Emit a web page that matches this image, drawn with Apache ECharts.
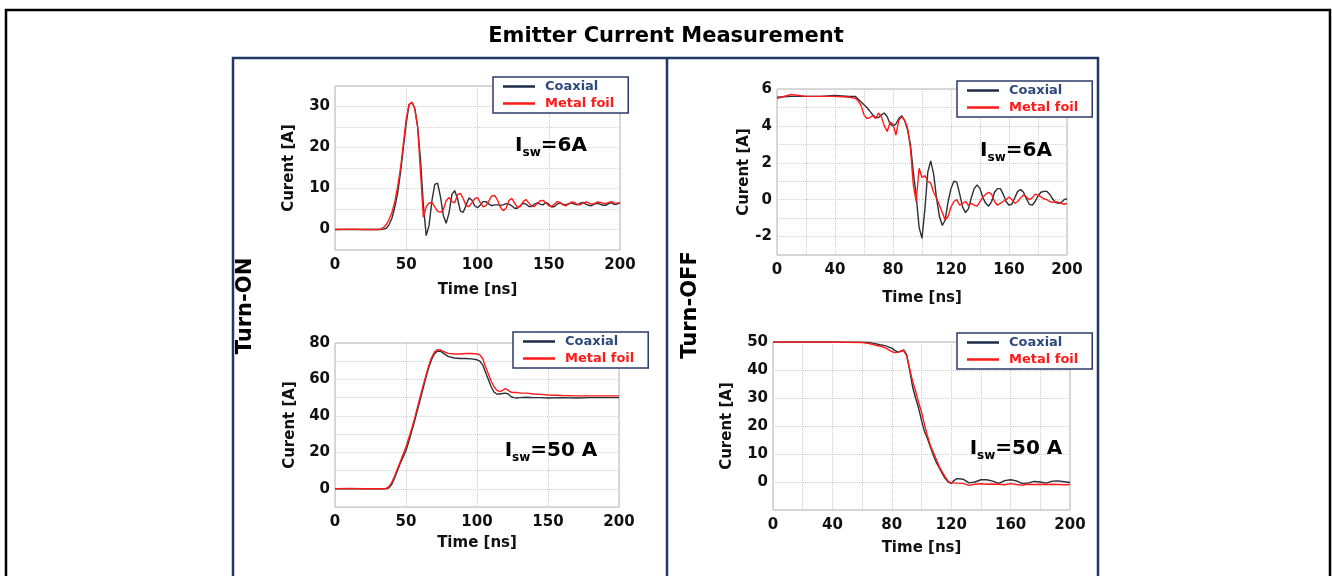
<!DOCTYPE html>
<html><head><meta charset="utf-8">
<script src="https://cdn.jsdelivr.net/npm/echarts@6/dist/echarts.min.js"></script>
<style>html,body{margin:0;padding:0;background:#fff}#c{width:1332px;height:576px}</style>
</head><body><div id="c"></div>
<script>
// ---------- DATA ----------
const seriesNames = ['Coaxial', 'Metal foil'];
const titleText = 'Emitter Current Measurement';
const rowLabels = ['Turn-ON', 'Turn-OFF'];
const noteValues = ['=6A', '=50 A', '=6A', '=50 A'];

// Turn-ON, Isw = 6 A
const onT6 = [0,10,20,30,32,34,36,38,40,42,44,46,48,50,52,54,56,58,60,62,64,66,68,70,72,74,76,78,80,82,84,86,88,90,92,94,96,98,100,102,104,106,108,110,112,114,116,118,120,122,124,126,128,130,132,134,136,138,140,142,144,146,148,150,152,154,156,158,160,162,164,166,168,170,172,174,176,178,180,182,184,186,188,190,192,194,196,198,200];
const onCoax6 = [0,0,0,0,0,0.1,0.3,1.2,2.8,5.5,9,14,20,26,30.5,31,29.5,25,17,6,-1.5,1,7,11,11.3,8,3.5,1.5,4,8.5,9.5,7.5,4.5,4.2,6,7.7,7.2,5.8,5.3,6,6.8,6.8,6.2,5.8,6,6,5.9,6,6.3,6.2,5.8,5.2,5.2,5.8,6.4,6.2,5.6,5.6,6.2,6.5,6.2,6.0,6.6,6.2,5.5,5.6,6.2,6.5,6.2,6.0,6.3,6.5,6.2,6.0,6.4,6.6,6.2,5.9,5.8,6.2,6.4,6.2,5.9,5.9,6.3,6.5,6.1,6.2,6.5];
const onFoil6 = [0,0.1,0,0,0.1,0.5,1.2,2.5,4.2,6.8,10.5,15,21,27,30.5,31,29.5,25,14,3,5.5,6.5,6.6,5.5,4.5,4.2,4.8,7,7.8,6.8,6.5,8.5,8.8,7.5,5.8,5.6,6.5,7.5,7.8,6.5,5.5,5.8,7,8.2,8.3,7.2,5.5,4.6,5.2,7,7.6,6.5,5.4,5.6,6.8,7.3,6.5,5.7,5.6,6.4,7,7.1,6.5,5.8,5.6,6.2,6.8,6.6,6.0,5.8,6.2,6.7,6.6,6.1,6.0,6.4,6.7,6.5,6.2,6.3,6.7,6.6,6.4,6.3,6.6,6.8,6.5,6.4,6.6];

// Turn-ON, Isw = 50 A
const onT50 = [0,10,20,30,34,36,38,40,42,44,46,48,50,52,54,56,58,60,62,64,66,68,70,72,74,76,78,80,84,88,92,96,100,102,104,106,108,110,112,114,116,118,120,122,124,126,128,130,135,140,145,150,160,170,180,190,200];
const onCoax50 = [0,0,0,0,0,0,0.5,2.5,6,10,14,17.5,21,26,31.5,37,43,49,55,61,66.5,71,74,75.5,75.6,74.6,73.5,72.5,71.8,71.5,71.5,71.3,70.8,70,68,64,60,56,53,52,52,52.3,52.5,52,50.5,50,49.8,50,50.2,50,50,49.8,50,49.8,50,50,50];
const onFoil50 = [0,0.2,0,0.1,0,0.2,1.2,3.5,7,11,15,19,23,28,33,38.5,44.5,50.5,56.5,62,67.5,72,75,76.3,76.2,75.5,74.8,74.3,74,74,74.2,74.2,74,73.5,71.5,67,63,59,56,54,53.3,54,55,54,53,52.8,52.8,52.6,52.5,52,51.8,51.5,51.2,51,51,51,51];

// Turn-OFF, Isw = 6 A
const offT6 = [0,10,20,30,40,50,54,56,58,60,62,64,66,68,70,72,74,76,78,80,82,84,86,88,90,92,94,96,98,100,102,104,106,108,110,112,114,116,118,120,122,124,126,128,130,132,134,136,138,140,142,144,146,148,150,152,154,156,158,160,162,164,166,168,170,172,174,176,178,180,182,184,186,188,190,192,194,196,198,200];
const offCoax6 = [5.55,5.6,5.6,5.6,5.65,5.6,5.6,5.45,5.3,5.15,5.0,4.8,4.6,4.45,4.45,4.6,4.7,4.5,4.1,4.0,4.1,4.4,4.55,4.3,3.8,3.0,1.5,0.2,-1.5,-2.1,-0.5,1.5,2.1,1.4,0.1,-0.9,-1.4,-1.1,-0.1,0.6,1.0,0.95,0.3,-0.4,-0.7,-0.5,0.1,0.6,0.8,0.6,0.1,-0.2,-0.35,-0.1,0.4,0.6,0.6,0.3,-0.1,-0.3,-0.25,0.1,0.45,0.55,0.4,0.05,-0.25,-0.3,-0.1,0.2,0.4,0.45,0.45,0.3,0.05,-0.15,-0.2,-0.15,0.0,0.05];
const offFoil6 = [5.5,5.7,5.6,5.6,5.6,5.55,5.5,5.35,5.1,4.6,4.4,4.45,4.55,4.4,4.7,4.5,4.0,3.7,4.2,4.1,3.5,4.3,4.5,4.3,3.9,2.8,0.8,-0.1,1.7,1.2,1.3,1.0,0.9,0.4,0.1,-0.3,-0.7,-1.1,-0.9,-0.4,-0.1,0.0,-0.3,-0.2,-0.1,-0.3,-0.2,-0.3,-0.35,-0.1,0.15,0.3,0.4,0.3,-0.1,-0.3,-0.2,-0.1,0.0,0.15,0.0,-0.2,-0.1,0.1,0.25,0.15,0.0,0.1,0.3,0.25,0.15,0.05,0.0,-0.1,-0.15,-0.1,-0.15,-0.2,-0.25,-0.2];

// Turn-OFF, Isw = 50 A
const offT50 = [0,20,40,60,64,68,72,76,78,80,82,84,86,88,90,92,94,96,98,100,102,104,106,108,110,112,114,116,118,120,122,124,128,132,136,140,144,148,152,156,160,164,168,172,176,180,184,188,192,196,200];
const offCoax50 = [50,50,50,49.9,49.8,49.5,49,48.6,48.2,47.8,47,46.4,46.6,47.2,45.5,40,34,30,26.5,22,18,15.5,12.5,9.5,7,5,3,1.2,0,-0.5,0.6,1.2,1.0,-0.3,0,0.8,0.8,0.3,-0.5,0.5,0.8,0.4,-0.6,-0.3,0.2,0,-0.4,0.3,0.4,0.1,-0.2];
const offFoil50 = [50,50,50,49.8,49.5,49,48.5,47.8,47.2,46.6,46.2,46.3,46.8,46.9,45,40.5,36,32.5,28.5,25,20.5,16.5,13,10.5,8,5.5,3.5,1.8,0.2,-0.3,-0.3,-0.4,-0.5,-1.2,-0.8,-0.6,-0.8,-0.7,-0.8,-1.0,-0.6,-0.9,-1.1,-0.8,-0.9,-0.8,-0.9,-0.8,-0.9,-1.0,-0.9];

// ---------- CHART ----------
const FONT = 'DejaVu Sans';
const COAX = '#2b2f38';
const FOIL = '#ff1a1a';
const NAVY = '#1f3864';
const COAX_TEXT = '#2e4a7d';

const panels = [
  {grid:{left:335, top:86, width:285, height:164}, x:{interval:50, step:50}, y:{min:-5, max:35, interval:5, step:10},
   t:onT6, a:onCoax6, b:onFoil6, xGap:33, yGap:38, legend:{left:493, top:77}, note:{x:551, y:146}},
  {grid:{left:335, top:343, width:284, height:164}, x:{interval:50, step:50}, y:{min:-10, max:80, interval:10, step:20},
   t:onT50, a:onCoax50, b:onFoil50, xGap:29, yGap:37, legend:{left:513, top:332}, note:{x:551, y:451}},
  {grid:{left:777, top:89, width:290, height:166}, x:{interval:20, step:40}, y:{min:-3, max:6, interval:1, step:2},
   t:offT6, a:offCoax6, b:offFoil6, xGap:36, yGap:22, legend:{left:957, top:81}, note:{x:1016, y:151}},
  {grid:{left:773, top:342, width:297, height:168}, x:{interval:20, step:40}, y:{min:-10, max:50, interval:10, step:10},
   t:offT50, a:offCoax50, b:offFoil50, xGap:31, yGap:38, legend:{left:957, top:333}, note:{x:1016, y:449}}
];

const pair = (t, v) => t.map((x, i) => [x, v[i]]);
const isStep = (v, s) => Math.abs(v / s - Math.round(v / s)) < 1e-6;

const grids = [], xAxes = [], yAxes = [], series = [], legends = [], graphics = [];

panels.forEach((p, i) => {
  grids.push(Object.assign({show:true, borderColor:'#b5b5b5', borderWidth:1, backgroundColor:'#fff'}, p.grid));
  xAxes.push({
    type:'value', gridIndex:i, min:0, max:200, interval:p.x.interval,
    name:'Time [ns]', nameLocation:'middle', nameGap:p.xGap,
    nameTextStyle:{fontFamily:FONT, fontWeight:'bold', fontSize:15, color:'#111'},
    axisLine:{show:false}, axisTick:{show:false},
    axisLabel:{fontFamily:FONT, fontWeight:'bold', fontSize:15, color:'#111', margin:8,
      formatter: v => isStep(v, p.x.step) ? String(v) : ''},
    splitLine:{show:true, lineStyle:{color:'#cfcfcf', type:'dotted', width:1}}
  });
  yAxes.push({
    type:'value', gridIndex:i, min:p.y.min, max:p.y.max, interval:p.y.interval,
    name:'Curent [A]', nameLocation:'middle', nameGap:p.yGap, nameRotate:90,
    nameTextStyle:{fontFamily:FONT, fontWeight:'bold', fontSize:15, color:'#111'},
    axisLine:{show:false}, axisTick:{show:false},
    axisLabel:{fontFamily:FONT, fontWeight:'bold', fontSize:15, color:'#111', margin:5, showMinLabel:false,
      formatter: v => isStep(v, p.y.step) ? String(v) : ''},
    splitLine:{show:true, lineStyle:{color:'#cfcfcf', type:'dotted', width:1}}
  });
  series.push({
    name:seriesNames[0], type:'line', xAxisIndex:i, yAxisIndex:i, data:pair(p.t, p.a),
    symbol:'none', lineStyle:{color:COAX, width:1.4}, itemStyle:{color:COAX}, z:2, animation:false
  });
  series.push({
    name:seriesNames[1], type:'line', xAxisIndex:i, yAxisIndex:i, data:pair(p.t, p.b),
    symbol:'none', lineStyle:{color:FOIL, width:1.4}, itemStyle:{color:FOIL}, z:3, animation:false
  });
  legends.push({
    left:p.legend.left, top:p.legend.top, orient:'vertical', itemGap:4, itemWidth:32, itemHeight:2.5, icon:'rect',
    padding:[3, 14, 3, 10], borderColor:'#2b3a67', borderWidth:1.5, backgroundColor:'#fff',
    selectedMode:false,
    textStyle:{fontFamily:FONT, fontWeight:'bold', fontSize:13, padding:[0,0,0,5]},
    data:[
      {name:seriesNames[0], itemStyle:{color:'#1c2a48'}, textStyle:{color:COAX_TEXT}},
      {name:seriesNames[1], itemStyle:{color:FOIL}, textStyle:{color:FOIL}}
    ]
  });
  graphics.push({
    type:'text', x:p.note.x, y:p.note.y, z:10,
    style:{
      text:'{a|I}{b|sw}{a|' + noteValues[i] + '}', align:'center', verticalAlign:'middle',
      rich:{
        a:{fontFamily:FONT, fontWeight:'bold', fontSize:20, lineHeight:26, color:'#111'},
        b:{fontFamily:FONT, fontWeight:'bold', fontSize:12, lineHeight:10, verticalAlign:'bottom', color:'#111'}
      }
    }
  });
});

// frames and headings
graphics.push(
  {type:'rect', shape:{x:6, y:10, width:1324, height:620}, style:{fill:'none', stroke:'#000', lineWidth:2.5}, z:0},
  {type:'polyline', shape:{points:[[233,600],[233,58],[1098,58],[1098,600]]}, style:{fill:'none', stroke:NAVY, lineWidth:2.5}, z:0},
  {type:'line', shape:{x1:667, y1:58, x2:667, y2:600}, style:{stroke:NAVY, lineWidth:2.5}, z:0},
  {type:'text', x:666, y:37, style:{text:titleText, align:'center', verticalAlign:'middle', fontFamily:FONT, fontWeight:'bold', fontSize:21, fill:'#000'}},
  {type:'text', x:246, y:306, rotation:Math.PI/2, style:{text:rowLabels[0], align:'center', verticalAlign:'middle', fontFamily:FONT, fontWeight:'bold', fontSize:21, fill:'#000'}},
  {type:'text', x:691, y:305, rotation:Math.PI/2, style:{text:rowLabels[1], align:'center', verticalAlign:'middle', fontFamily:FONT, fontWeight:'bold', fontSize:21, fill:'#000'}}
);

const chart = echarts.init(document.getElementById('c'), null, {renderer:'canvas'});
chart.setOption({
  backgroundColor:'#fff',
  animation:false,
  grid:grids, xAxis:xAxes, yAxis:yAxes, series:series, legend:legends, graphic:graphics
});
</script>
</body></html>
